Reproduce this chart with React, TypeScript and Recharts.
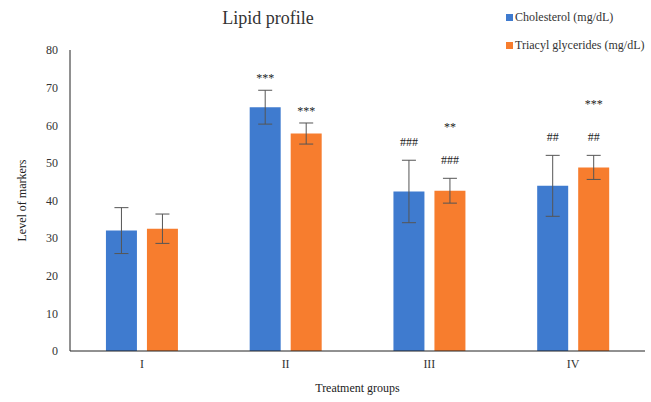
import { BarChart, Bar, XAxis, YAxis, ErrorBar, LabelList, Label } from 'recharts';

const groups = ['I', 'II', 'III', 'IV'];
const cholesterol = [32.0, 64.8, 42.4, 43.9];
const cholesterolErr = [6.1, 4.5, 8.3, 8.1];
const triglycerides = [32.5, 57.8, 42.6, 48.8];
const triglyceridesErr = [3.9, 2.8, 3.3, 3.2];
// significance marks: * vs normal control, # vs disease control
const cholStars = ['', '***', '', ''];
const cholHashes = ['', '', '###', '##'];
const trigStars = ['', '***', '**', '***'];
const trigHashes = ['', '', '###', '##'];

const BLUE = '#3F7BCF';
const ORANGE = '#F77D2E';
const FONT = "'Times New Roman', 'Liberation Serif', 'DejaVu Serif', serif";

const data = groups.map((g, i) => ({
  group: g,
  chol: cholesterol[i],
  cholErr: cholesterolErr[i],
  trig: triglycerides[i],
  trigErr: triglyceridesErr[i],
  cholStar: cholStars[i],
  cholHash: cholHashes[i],
  trigStar: trigStars[i],
  trigHash: trigHashes[i],
}));

// draws the marks above the error bar of each bar
const makeSig = (valKey: string, errKey: string, starKey: string, hashKey: string) => (props: any) => {
  const { x, width, index, viewBox } = props;
  const d = data[index] as any;
  const top = d[valKey] + d[errKey];
  const vb = viewBox || {};
  const pxPerUnit = vb.height / d[valKey];
  const yTop = vb.y + vb.height - top * pxPerUnit;
  const cx = (x ?? vb.x) + (width ?? vb.width) / 2;
  const out: any[] = [];
  let y = yTop - 14;
  if (d[hashKey]) {
    out.push(
      <text key="h" x={cx} y={y} textAnchor="middle" fontSize={12} fontFamily={FONT} fill="#222" stroke="none">
        {d[hashKey]}
      </text>
    );
    y -= 39;
  }
  if (d[starKey]) {
    out.push(
      <text key="s" x={cx} y={y + 6} textAnchor="middle" fontSize={12} fontFamily={FONT} fill="#222" stroke="none">
        {d[starKey]}
      </text>
    );
  }
  return <g>{out}</g>;
};

export default function App() {
  return (
    <div style={{ position: 'absolute', left: 0, top: 0, width: 651, height: 402, background: '#fff' }}>
      <div
        style={{
          position: 'absolute',
          left: 0,
          width: 536,
          top: 8,
          textAlign: 'center',
          fontFamily: FONT,
          fontSize: 18,
          color: '#333',
        }}
      >
        Lipid profile
      </div>
      <div style={{ position: 'absolute', left: 506, top: 9, fontFamily: FONT, fontSize: 12, color: '#333' }}>
        <div style={{ display: 'flex', alignItems: 'center', height: 16 }}>
          <span style={{ width: 7, height: 7, background: BLUE, marginRight: 2 }} />
          Cholesterol (mg/dL)
        </div>
        <div style={{ display: 'flex', alignItems: 'center', height: 16, marginTop: 12 }}>
          <span style={{ width: 7, height: 7, background: ORANGE, marginRight: 2 }} />
          Triacyl glycerides (mg/dL)
        </div>
      </div>
      <BarChart
        width={651}
        height={402}
        data={data}
        margin={{ top: 50, right: 6, left: 0, bottom: 21 }}
        barCategoryGap="25%"
        barGap={10}
      >
        <XAxis
          dataKey="group"
          tickLine={false}
          axisLine={{ stroke: '#222' }}
          tick={{ fontFamily: FONT, fontSize: 12, fill: '#333' }}
          height={30}
        >
          <Label value="Treatment groups" position="bottom" offset={2} style={{ fontFamily: FONT, fontSize: 12, fill: '#222' }} />
        </XAxis>
        <YAxis
          domain={[0, 80]}
          ticks={[0, 10, 20, 30, 40, 50, 60, 70, 80]}
          width={70}
          tickLine={false}
          tickMargin={6}
          axisLine={{ stroke: '#222' }}
          tick={{ fontFamily: FONT, fontSize: 12, fill: '#333' }}
        >
          <Label value="Level of markers" angle={-90} position="center" dx={-13} style={{ fontFamily: FONT, fontSize: 12, fill: '#222' }} />
        </YAxis>
        <Bar dataKey="chol" name="Cholesterol (mg/dL)" fill={BLUE} isAnimationActive={false}>
          <ErrorBar dataKey="cholErr" width={7} stroke="#555" strokeWidth={1} isAnimationActive={false} />
          <LabelList dataKey="chol" content={makeSig('chol', 'cholErr', 'cholStar', 'cholHash')} />
        </Bar>
        <Bar dataKey="trig" name="Triacyl glycerides (mg/dL)" fill={ORANGE} isAnimationActive={false}>
          <ErrorBar dataKey="trigErr" width={7} stroke="#555" strokeWidth={1} isAnimationActive={false} />
          <LabelList dataKey="trig" content={makeSig('trig', 'trigErr', 'trigStar', 'trigHash')} />
        </Bar>
      </BarChart>
    </div>
  );
}
